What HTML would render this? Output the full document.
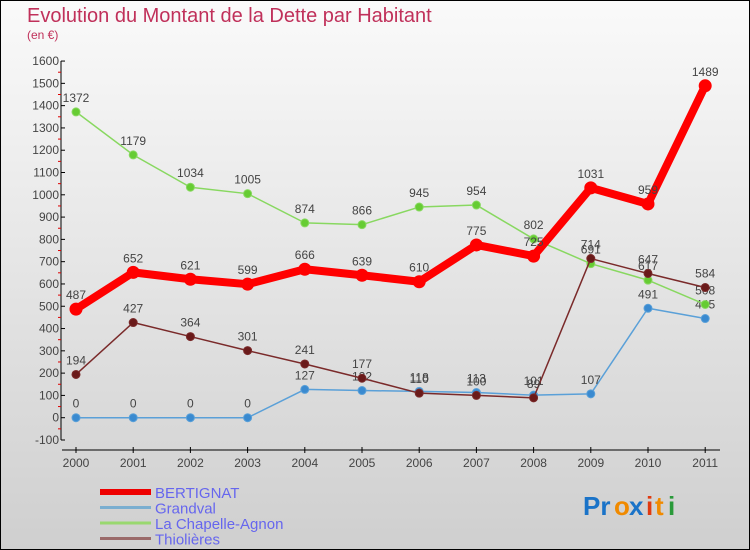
<!DOCTYPE html>
<html><head><meta charset="utf-8"><style>
body{margin:0}
svg{display:block;font-family:"Liberation Sans",sans-serif}
</style></head><body>
<svg id="chart" width="750" height="550" viewBox="0 0 750 550">
<defs><linearGradient id="bg" x1="0" y1="0" x2="0" y2="1"><stop offset="0" stop-color="#fafafa"/><stop offset="1" stop-color="#cfcfcf"/></linearGradient></defs>
<rect x="0.5" y="0.5" width="749" height="549" fill="url(#bg)" stroke="#000"/>
<text x="27" y="22" font-size="20" fill="#c0305a">Evolution du Montant de la Dette par Habitant</text>
<text x="27" y="39" font-size="12" fill="#c0305a">(en €)</text>
<g id="axes"></g><g id="series"></g><g id="legend"></g>
<g font-size="26" font-weight="bold">
<text x="583" y="515" fill="#1a73c8">Pr</text><text x="614" y="515" fill="#f08a00">o</text><text x="629" y="515" fill="#1a73c8">x</text><text x="646" y="515" fill="#e03a10">i</text><text x="655" y="515" fill="#f08a00">t</text><text x="668" y="515" fill="#2a9a3a">i</text>
</g>
</svg>
<script>
const years=["2000","2001","2002","2003","2004","2005","2006","2007","2008","2009","2010","2011"];
const bertignat=[487,652,621,599,666,639,610,775,725,1031,959,1489];
const grandval=[0,0,0,0,127,122,118,113,101,107,491,445];
const chapelle=[1372,1179,1034,1005,874,866,945,954,802,691,617,508];
const thiolieres=[194,427,364,301,241,177,110,100,89,714,647,584];
const yTicks=[-100,0,100,200,300,400,500,600,700,800,900,1000,1100,1200,1300,1400,1500,1600];
const NS="http://www.w3.org/2000/svg";
const y=v=>417.7-(v)*0.2229;
const x=i=>76+i*57.2;
function mk(tag,attrs,parent,txt){const e=document.createElementNS(NS,tag);for(const k in attrs)e.setAttribute(k,attrs[k]);if(txt!=null)e.textContent=txt;parent.appendChild(e);return e;}
const axes=document.getElementById('axes');
const ya=mk('line',{x1:61,x2:61,y1:y(1600),y2:y(-100),stroke:'#000'},axes);


yTicks.forEach(v=>{
  mk('line',{x1:61,x2:65,y1:y(v),y2:y(v),stroke:'#000'},axes);
  if(v<1600) mk('line',{x1:58,x2:61,y1:y(v+50),y2:y(v+50),stroke:'#d00'},axes);
  const t=mk('text',{x:59,y:y(v)+4,'font-size':12,'text-anchor':'end',fill:'#444'},axes,String(v));
  
  
});
const xa=mk('line',{x1:62,x2:720,y1:450,y2:450,stroke:'#000'},axes);


years.forEach((yr,i)=>{
  mk('line',{x1:x(i),x2:x(i),y1:447,y2:453,stroke:'#000'},axes);
  const t=mk('text',{x:x(i),y:467,'font-size':12,'text-anchor':'middle',fill:'#444'},axes,yr);
  
  
});
const S=document.getElementById('series');
function draw(name,data,color,w,r,dot){
  const g=mk('g',{},S);
  
  
  mk('polyline',{points:data.map((v,i)=>x(i)+','+y(v)).join(' '),fill:'none',stroke:color,'stroke-width':w,'stroke-linejoin':'round'},g);
  data.forEach((v,i)=>{
    const c=mk('circle',{cx:x(i),cy:y(v),r:r,fill:dot,stroke:color,'stroke-width':1},g);
    
    
    const t=mk('text',{x:x(i),y:y(v)-10,'font-size':12,'text-anchor':'middle',fill:'#444'},g,String(v));
    
    
  });
}
draw('grandval',grandval,'#5aa0d8',1.5,4,'#3a8ad0');
draw('la-chapelle-agnon',chapelle,'#88d860',1.5,4,'#66cc33');
draw('thiolieres',thiolieres,'#7a2a2a',1.5,4,'#6a1a1a');
draw('bertignat',bertignat,'#f00',8,6,'#f00');
const L=document.getElementById('legend');
[["BERTIGNAT","#e00",6],["Grandval","#7aaed0",3],["La Chapelle-Agnon","#99d870",3],["Thiolières","#9a6a6a",3]].forEach((d,i)=>{
  const g=mk('g',{},L);
  
  
  const yy=492+i*15.5;
  mk('line',{x1:100,x2:151,y1:yy,y2:yy,stroke:d[1],'stroke-width':d[2]},g);
  mk('text',{x:155,y:yy+6,'font-size':15,fill:'#6666ee'},g,d[0]);
});
</script>
</body></html>
